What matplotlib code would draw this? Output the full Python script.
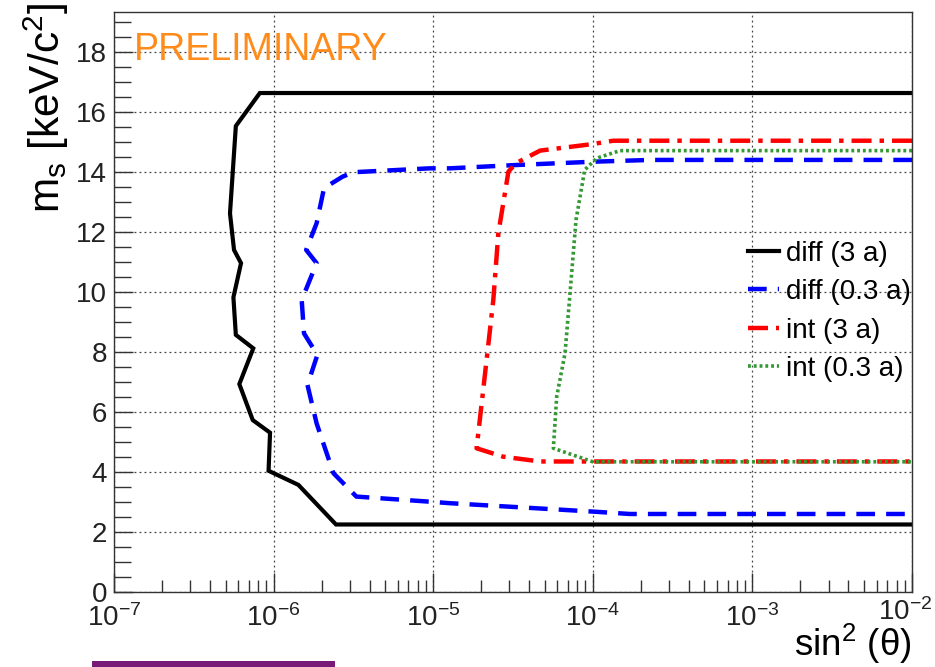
import matplotlib
matplotlib.use("Agg")
import matplotlib.pyplot as plt
from matplotlib.ticker import FixedLocator, NullFormatter, LogLocator
from matplotlib.patches import Rectangle

plt.rcParams['font.family'] = ['Liberation Sans', 'DejaVu Sans']
plt.rcParams['mathtext.fontset'] = 'custom'
plt.rcParams['mathtext.rm'] = 'Liberation Sans'
plt.rcParams['mathtext.it'] = 'Liberation Sans:italic'
plt.rcParams['mathtext.bf'] = 'Liberation Sans:bold'

# ---- data ----
diff3_x = [1e-2, 8.2e-7, 5.8e-7, 5.33e-7, 5.65e-7, 6.25e-7, 5.6e-7, 5.8e-7, 7.46e-7,
           6.1e-7, 7.4e-7, 9.5e-7, 9.3e-7, 1.43e-6, 2.46e-6, 1e-2]
diff3_y = [16.63, 16.63, 15.53, 12.62, 11.4, 10.96, 9.82, 8.57, 8.12,
           6.93, 5.73, 5.31, 4.04, 3.57, 2.25, 2.25]

diff03_x = [1e-2, 2.3e-4, 1e-4, 3.3e-5, 1.27e-5, 9.5e-6, 3.16e-6, 2.7e-6, 2.07e-6, 1.86e-6,
            1.6e-6, 1.86e-6, 1.5e-6, 1.55e-6, 1.88e-6, 1.63e-6, 1.86e-6, 2.37e-6,
            3.3e-6, 9.5e-6, 1.27e-5, 1e-4, 1.71e-4, 1e-2]
diff03_y = [14.4, 14.4, 14.34, 14.23, 14.12, 14.12, 13.99, 13.84, 13.46, 12.29,
            11.4, 10.96, 9.73, 8.62, 7.9, 6.9, 5.62, 3.96,
            3.18, 3.01, 2.96, 2.68, 2.6, 2.6]

int3_x = [1e-2, 2.3e-4, 1.34e-4, 1e-4, 4.67e-5, 3.3e-5, 2.96e-5, 2.56e-5, 2.38e-5,
          2.16e-5, 1.87e-5, 2.74e-5, 4.67e-5, 1e-2]
int3_y = [15.04, 15.04, 15.04, 14.93, 14.71, 14.29, 14.01, 11.96, 9.73,
          7.73, 4.79, 4.51, 4.35, 4.35]

int03_x = [1e-2, 2.3e-4, 1.48e-4, 1.06e-4, 8.9e-5, 7.85e-5, 7.2e-5, 6.7e-5, 5.94e-5,
           5.66e-5, 1e-4, 1e-2]
int03_y = [14.71, 14.71, 14.71, 14.46, 14.07, 12.4, 9.96, 7.96, 6.51,
           4.79, 4.34, 4.34]

labels = ['diff (3 a)', 'diff (0.3 a)', 'int (3 a)', 'int (0.3 a)']
y_ticks = [0, 2, 4, 6, 8, 10, 12, 14, 16, 18]
x_ticks = [1e-7, 1e-6, 1e-5, 1e-4, 1e-3, 1e-2]
x_ticklabels = [r'$10^{-7}$', r'$10^{-6}$', r'$10^{-5}$', r'$10^{-4}$', r'$10^{-3}$', r'$10^{-2}$']

# ---- figure ----
fig = plt.figure(figsize=(9.35, 6.67), dpi=100)
ax = fig.add_axes([114/935, 75/667, 798/935, 580/667])

ax.plot(diff3_x, diff3_y, color='black', lw=3.0, solid_joinstyle='miter', label=labels[0])
ax.plot(diff03_x, diff03_y, color='#0000ff', lw=3.2, dashes=(4.2, 2.5), label=labels[1])
ax.plot(int3_x, int3_y, color='#ff0000', lw=3.2, dashes=(4.5, 1.8, 1, 1.8), label=labels[2])
ax.plot(int03_x, int03_y, color='#339933', lw=2.6, dashes=(0.8, 0.8), label=labels[3])

ax.set_xscale('log')
ax.set_xlim(1e-7, 1e-2)
ax.set_ylim(0, 19.33)

# last decade label is drawn right-aligned to stay inside the picture (as in the reference)
ax.set_xticks(x_ticks)
ax.set_xticklabels(x_ticklabels[:-1] + [''])
ax.annotate(x_ticklabels[-1], xy=(x_ticks[-1], 0), xycoords=('data', 'axes fraction'),
            xytext=(14.5, -4.5), textcoords='offset points', ha='right', va='top',
            fontsize=20, color='#222222')
ax.xaxis.set_minor_locator(LogLocator(base=10, subs=range(2, 10), numticks=100))
ax.xaxis.set_minor_formatter(NullFormatter())
ax.set_yticks(y_ticks)
ax.yaxis.set_minor_locator(FixedLocator([i * 0.5 for i in range(0, 39)]))

ax.tick_params(axis='both', which='major', direction='in', length=14, width=1.0,
               color='#333333', labelcolor='#222222')
ax.tick_params(axis='y', which='major', labelsize=20, pad=5)
ax.tick_params(axis='x', which='major', labelsize=20, pad=9)
ax.tick_params(axis='y', which='minor', direction='in', length=12, width=1.0, color='#333333')
ax.tick_params(axis='x', which='minor', direction='in', length=9, width=1.0, color='#333333')

ax.grid(True, which='major', linestyle=(0, (1.5, 2.5)), color='#444444', lw=0.9)
ax.set_axisbelow(True)
for s in ax.spines.values():
    s.set_color('#333333')
    s.set_linewidth(1.0)

leg = ax.legend(loc='upper left', bbox_to_anchor=(0.78, 0.625), frameon=False,
                fontsize=20, handlelength=1.15, handletextpad=0.25, labelspacing=0.45,
                borderaxespad=0)

ax.text(0.025, 0.965, 'PRELIMINARY', transform=ax.transAxes, color='#ff8c1a',
        fontsize=27, ha='left', va='top')

fig.text(46/935, 1 - 3/667, r'm$_{\mathrm{s}}$ [keV/c$^{2}$]', rotation=90,
         ha='center', va='top', fontsize=30.5)
fig.text(912/935, 0.5/667, 'sin$^{2}$ (θ)', ha='right', va='bottom', fontsize=26.5)

fig.patches.append(Rectangle((92/935, 0), 243/935, 6/667, transform=fig.transFigure,
                             facecolor='#7a1a78', edgecolor='none'))

fig.savefig('out.png', dpi=100)
